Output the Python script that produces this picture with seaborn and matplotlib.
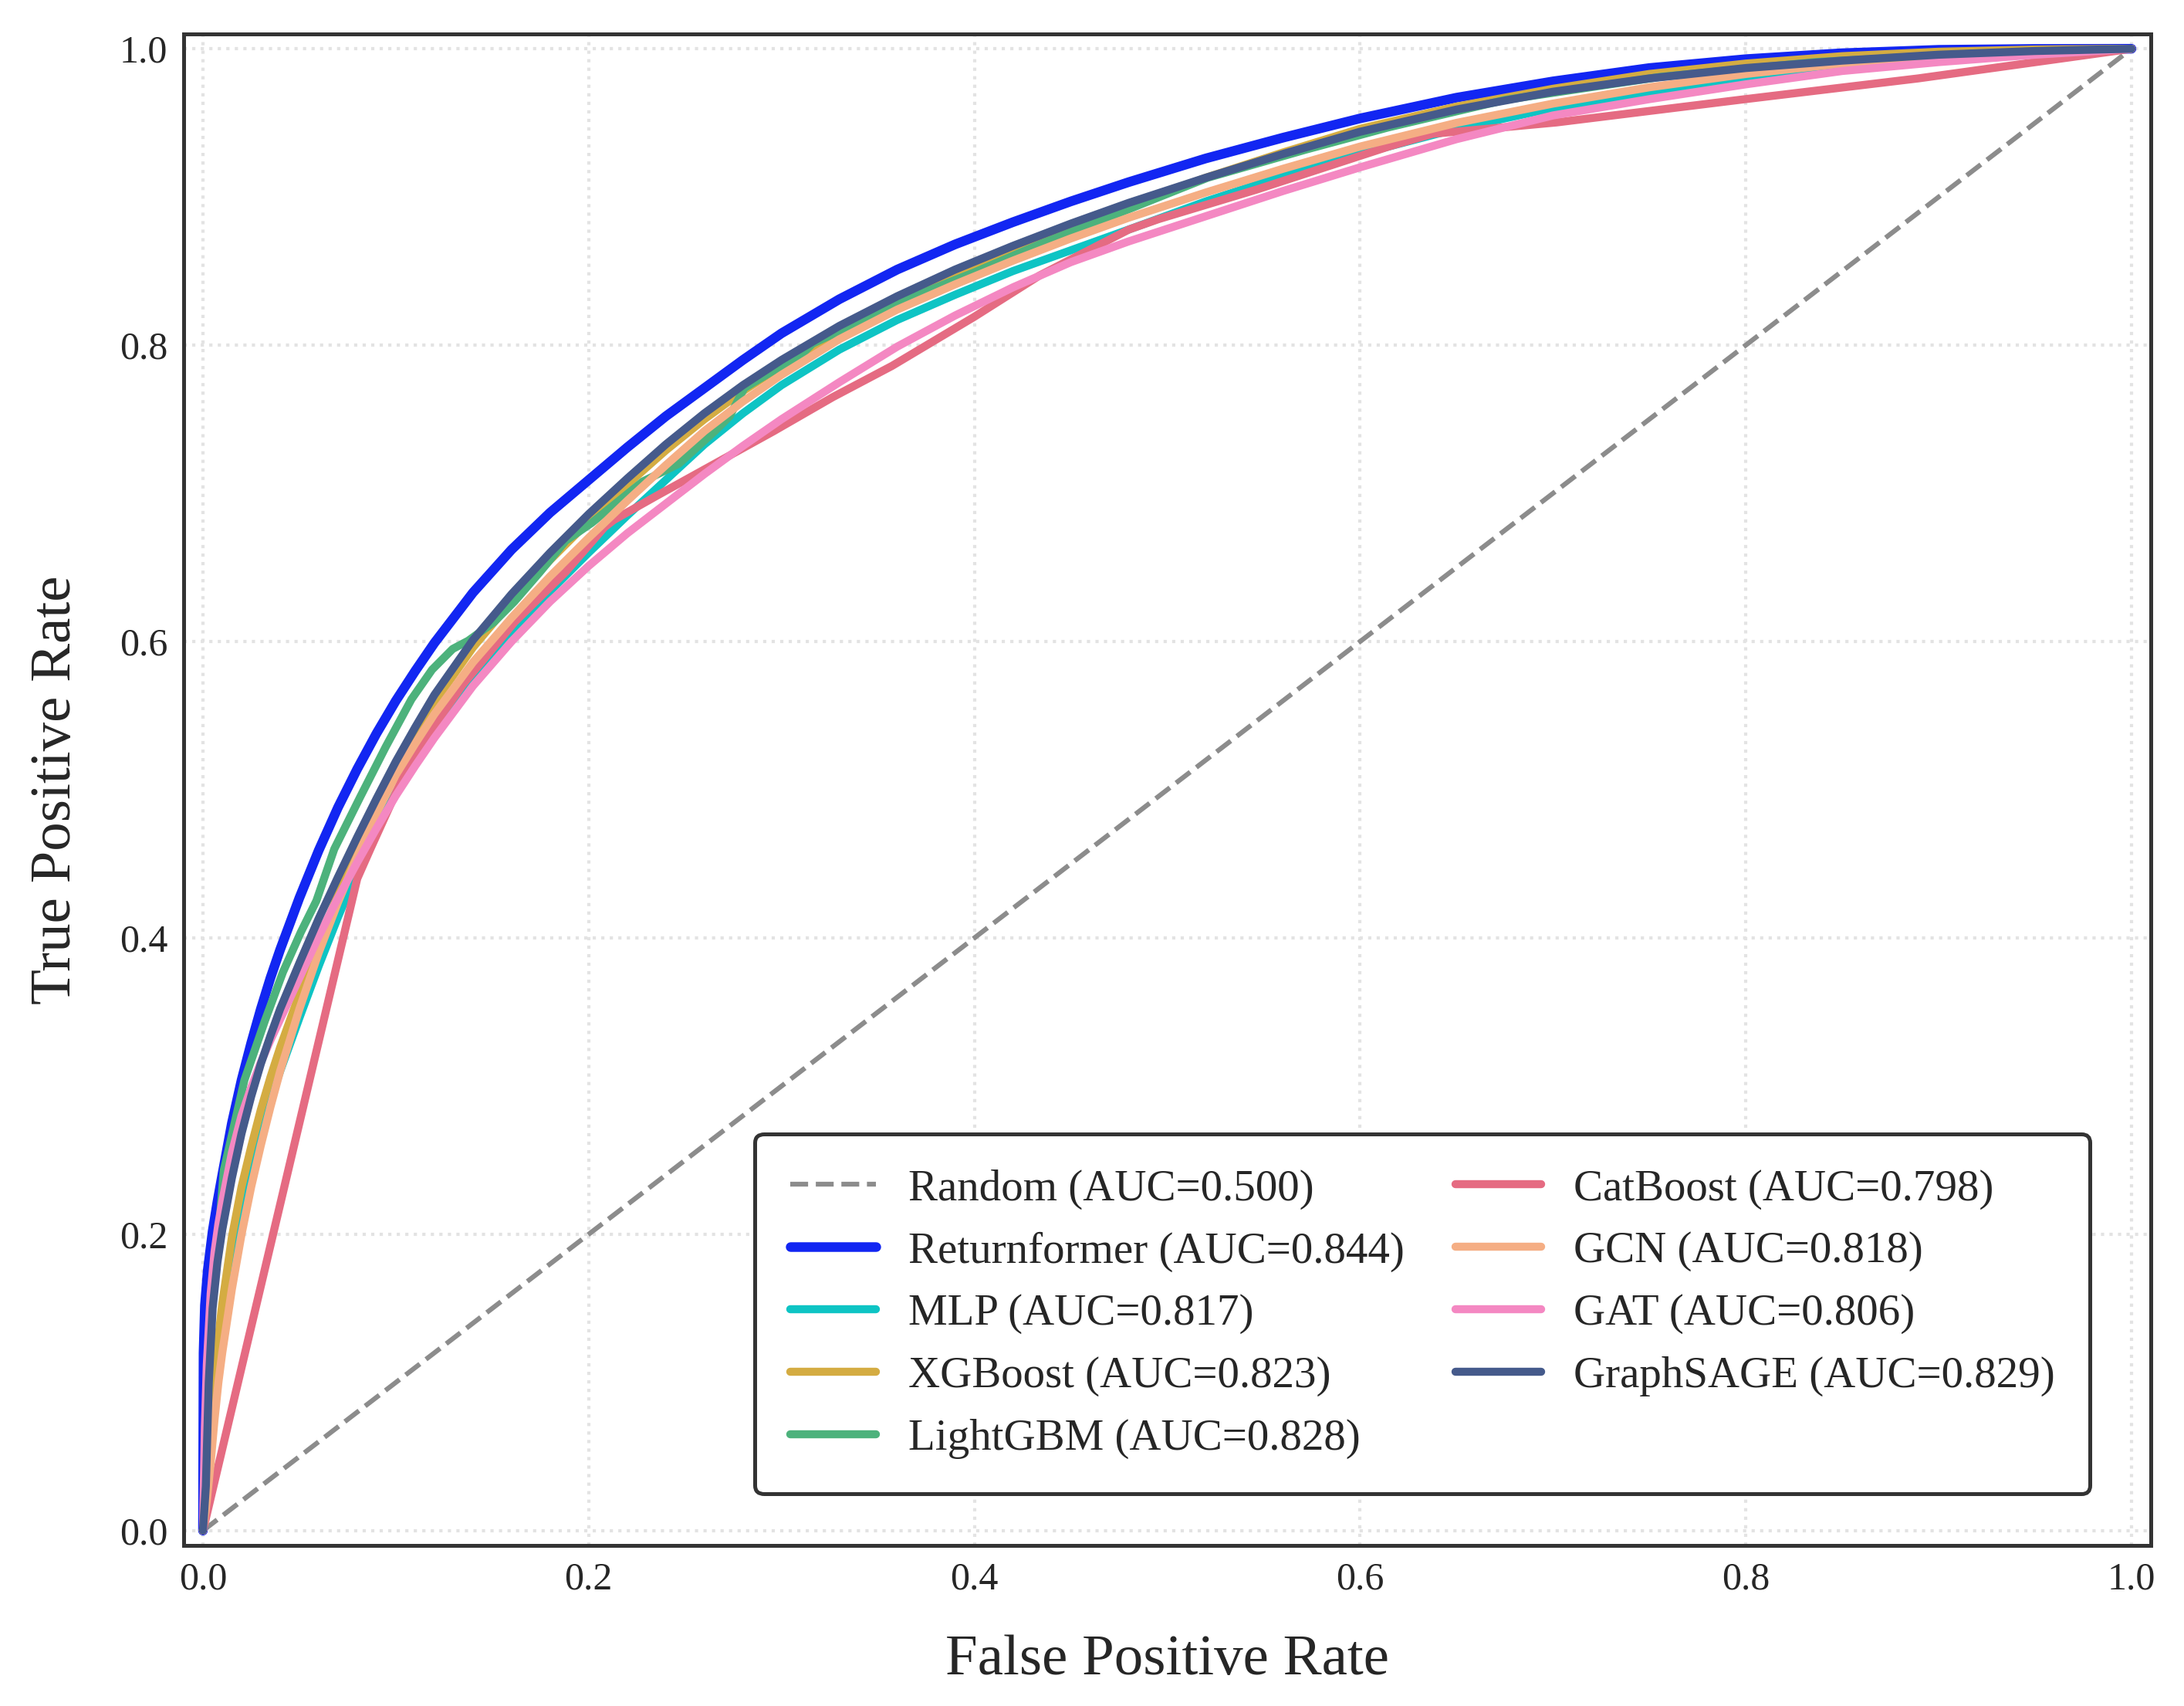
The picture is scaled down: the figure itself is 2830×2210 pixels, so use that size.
import numpy as np
import pandas as pd
import matplotlib
matplotlib.use("Agg")
import matplotlib.pyplot as plt
import seaborn as sns

# ---------------- data ----------------
random_fpr = [0.0, 1.0]
random_tpr = [0.0, 1.0]

returnformer_fpr = [0.0, 0.0003, 0.001, 0.0025, 0.005, 0.0075, 0.01, 0.015, 0.02, 0.025, 0.03, 0.035,
                    0.04, 0.05, 0.06, 0.07, 0.08, 0.09, 0.10, 0.11, 0.12, 0.14, 0.16, 0.18,
                    0.20, 0.22, 0.24, 0.26, 0.28, 0.30, 0.33, 0.36, 0.39, 0.42, 0.45, 0.48,
                    0.52, 0.56, 0.60, 0.65, 0.70, 0.75, 0.80, 0.85, 0.90, 0.95, 1.0]
returnformer_tpr = [0.0, 0.120, 0.152, 0.176, 0.202, 0.222, 0.240, 0.275, 0.304, 0.329, 0.352, 0.373,
                    0.392, 0.427, 0.459, 0.488, 0.514, 0.538, 0.560, 0.580, 0.599, 0.633, 0.662, 0.687,
                    0.709, 0.731, 0.752, 0.771, 0.790, 0.808, 0.831, 0.851, 0.868, 0.883, 0.897, 0.910,
                    0.926, 0.940, 0.953, 0.967, 0.978, 0.987, 0.993, 0.997, 0.9993, 0.9999, 1.0]

mlp_fpr = [0.0, 0.002, 0.004, 0.006, 0.008, 0.01, 0.015, 0.02, 0.025, 0.03, 0.035, 0.04,
           0.05, 0.06, 0.07, 0.08, 0.09, 0.10, 0.11, 0.12, 0.14, 0.16, 0.18, 0.20,
           0.22, 0.24, 0.26, 0.28, 0.30, 0.33, 0.36, 0.39, 0.42, 0.45, 0.48, 0.52,
           0.56, 0.60, 0.65, 0.70, 0.75, 0.80, 0.85, 0.90, 0.95, 1.0]
mlp_tpr = [0.0, 0.026, 0.055, 0.085, 0.114, 0.137, 0.182, 0.220, 0.247, 0.270, 0.291, 0.310,
           0.346, 0.381, 0.414, 0.445, 0.473, 0.498, 0.520, 0.540, 0.577, 0.607, 0.634, 0.660,
           0.685, 0.709, 0.733, 0.754, 0.773, 0.797, 0.817, 0.834, 0.850, 0.864, 0.878, 0.897,
           0.914, 0.929, 0.946, 0.960, 0.971, 0.980, 0.988, 0.994, 0.998, 1.0]

xgb_fpr = [0.0, 0.002, 0.004, 0.006, 0.008, 0.01, 0.015, 0.02, 0.025, 0.03, 0.035, 0.04,
           0.05, 0.06, 0.07, 0.08, 0.09, 0.10, 0.11, 0.12, 0.14, 0.16, 0.18, 0.20,
           0.22, 0.24, 0.26, 0.28, 0.30, 0.33, 0.36, 0.39, 0.42, 0.45, 0.48, 0.52,
           0.56, 0.60, 0.65, 0.70, 0.75, 0.80, 0.85, 0.90, 0.95, 1.0]
xgb_tpr = [0.0, 0.032, 0.068, 0.102, 0.130, 0.153, 0.198, 0.232, 0.259, 0.284, 0.306, 0.326,
           0.362, 0.397, 0.429, 0.459, 0.487, 0.513, 0.537, 0.559, 0.596, 0.627, 0.655, 0.681,
           0.706, 0.729, 0.750, 0.769, 0.786, 0.809, 0.829, 0.846, 0.862, 0.878, 0.894, 0.913,
           0.930, 0.946, 0.961, 0.973, 0.983, 0.990, 0.995, 0.998, 0.9995, 1.0]

lgb_fpr = [0.0, 0.0015, 0.0028, 0.0045, 0.0075, 0.0108, 0.0215, 0.0321, 0.0415, 0.0508, 0.0588, 0.0681,
           0.0815, 0.0948, 0.1081, 0.1188, 0.1295, 0.1375, 0.1508, 0.1615, 0.1748, 0.1881, 0.2015, 0.2148,
           0.2281, 0.2468, 0.2654, 0.2731, 0.2807, 0.3114, 0.3160, 0.3573, 0.3726, 0.3998, 0.4338, 0.4748,
           0.5210, 0.5720, 0.6148, 0.6752, 0.7555, 0.8359, 0.9162, 1.0]
lgb_tpr = [0.0, 0.030, 0.100, 0.150, 0.190, 0.243, 0.304, 0.344, 0.377, 0.404, 0.425, 0.460,
           0.495, 0.529, 0.561, 0.581, 0.595, 0.6005, 0.613, 0.627, 0.647, 0.668, 0.680, 0.694,
           0.708, 0.720, 0.742, 0.752, 0.771, 0.795, 0.801, 0.826, 0.835, 0.849, 0.868, 0.889,
           0.913, 0.932, 0.947, 0.9655, 0.981, 0.991, 0.9965, 1.0]

cat_fpr = [0.0, 0.0800, 0.0868, 0.1081, 0.1348, 0.1615, 0.1881, 0.2081, 0.2130, 0.2348, 0.2654, 0.2960,
           0.3267, 0.3573, 0.3998, 0.4338, 0.4801, 0.4954, 0.5464, 0.6148, 0.6376, 0.7019, 0.7997, 0.8894, 1.0]
cat_tpr = [0.0, 0.440, 0.460, 0.521, 0.571, 0.613, 0.647, 0.677, 0.682, 0.698, 0.720, 0.742,
           0.765, 0.786, 0.819, 0.847, 0.878, 0.885, 0.905, 0.934, 0.9426, 0.9503, 0.966, 0.980, 1.0]

gcn_fpr = [0.0, 0.002, 0.004, 0.006, 0.008, 0.01, 0.015, 0.02, 0.025, 0.03, 0.035, 0.04,
           0.05, 0.06, 0.07, 0.08, 0.09, 0.10, 0.11, 0.12, 0.14, 0.16, 0.18, 0.20,
           0.22, 0.24, 0.26, 0.28, 0.30, 0.33, 0.36, 0.39, 0.42, 0.45, 0.48, 0.52,
           0.56, 0.60, 0.65, 0.70, 0.75, 0.80, 0.85, 0.90, 0.95, 1.0]
gcn_tpr = [0.0, 0.020, 0.046, 0.075, 0.100, 0.120, 0.163, 0.200, 0.232, 0.260, 0.286, 0.310,
           0.352, 0.390, 0.424, 0.455, 0.484, 0.510, 0.531, 0.551, 0.586, 0.616, 0.644, 0.670,
           0.695, 0.719, 0.742, 0.762, 0.780, 0.804, 0.824, 0.841, 0.857, 0.872, 0.886, 0.903,
           0.919, 0.934, 0.950, 0.963, 0.974, 0.983, 0.990, 0.995, 0.998, 1.0]

gat_fpr = [0.0, 0.001, 0.002, 0.004, 0.006, 0.008, 0.01, 0.015, 0.02, 0.025, 0.03, 0.035,
           0.04, 0.05, 0.06, 0.07, 0.08, 0.09, 0.10, 0.11, 0.12, 0.14, 0.16, 0.18,
           0.20, 0.22, 0.24, 0.26, 0.28, 0.30, 0.33, 0.36, 0.39, 0.42, 0.45, 0.48,
           0.52, 0.56, 0.60, 0.65, 0.70, 0.75, 0.80, 0.85, 0.90, 0.95, 1.0]
gat_tpr = [0.0, 0.070, 0.112, 0.160, 0.188, 0.207, 0.222, 0.255, 0.280, 0.299, 0.316, 0.331,
           0.345, 0.373, 0.401, 0.427, 0.451, 0.474, 0.496, 0.516, 0.535, 0.570, 0.600, 0.627,
           0.651, 0.673, 0.693, 0.713, 0.732, 0.750, 0.775, 0.799, 0.820, 0.839, 0.856, 0.870,
           0.887, 0.904, 0.920, 0.939, 0.955, 0.966, 0.976, 0.985, 0.991, 0.996, 1.0]

sage_fpr = [0.0, 0.0015, 0.003, 0.005, 0.0075, 0.01, 0.015, 0.02, 0.025, 0.03, 0.035, 0.04,
            0.05, 0.06, 0.07, 0.08, 0.09, 0.10, 0.11, 0.12, 0.14, 0.16, 0.18, 0.20,
            0.22, 0.24, 0.26, 0.28, 0.30, 0.33, 0.36, 0.39, 0.42, 0.45, 0.48, 0.52,
            0.56, 0.60, 0.65, 0.70, 0.75, 0.80, 0.85, 0.90, 0.95, 1.0]
sage_tpr = [0.0, 0.030, 0.100, 0.150, 0.181, 0.203, 0.238, 0.268, 0.293, 0.315, 0.334, 0.352,
            0.383, 0.413, 0.441, 0.468, 0.494, 0.519, 0.542, 0.564, 0.601, 0.632, 0.660, 0.686,
            0.710, 0.733, 0.754, 0.773, 0.790, 0.813, 0.833, 0.851, 0.867, 0.882, 0.896, 0.913,
            0.929, 0.944, 0.959, 0.971, 0.980, 0.987, 0.992, 0.996, 0.9985, 1.0]

model_names = ["Random", "Returnformer", "MLP", "XGBoost", "LightGBM", "CatBoost", "GCN", "GAT", "GraphSAGE"]
auc_values = [0.500, 0.844, 0.817, 0.823, 0.828, 0.798, 0.818, 0.806, 0.829]
curve_fpr = [random_fpr, returnformer_fpr, mlp_fpr, xgb_fpr, lgb_fpr, cat_fpr, gcn_fpr, gat_fpr, sage_fpr]
curve_tpr = [random_tpr, returnformer_tpr, mlp_tpr, xgb_tpr, lgb_tpr, cat_tpr, gcn_tpr, gat_tpr, sage_tpr]

colors = ["#8c8c8c", "#1226F2", "#0EC4C4", "#D4AC42", "#4DB27C", "#E56B82", "#F5AE84", "#F488C2", "#455A8B"]
widths = [1.5, 3.0, 2.5, 2.5, 2.5, 2.5, 2.5, 2.5, 2.5]

# ---------------- style ----------------
sns.set_theme(style="whitegrid")
plt.rcParams["font.family"] = ["Liberation Serif", "DejaVu Serif"]
plt.rcParams["axes.edgecolor"] = "#333333"
plt.rcParams["axes.linewidth"] = 1.2
plt.rcParams["grid.color"] = "#e3e3e3"
plt.rcParams["grid.linestyle"] = ":"
plt.rcParams["grid.linewidth"] = 1.0
plt.rcParams["text.color"] = "#262626"
plt.rcParams["axes.labelcolor"] = "#262626"
plt.rcParams["xtick.color"] = "#262626"
plt.rcParams["ytick.color"] = "#262626"

fig = plt.figure(figsize=(2830 / 300, 2210 / 300), dpi=300)
ax = fig.add_axes([0.0841, 0.0941, 0.9007, 0.8860])

for name, auc, fx, fy, col, lw in zip(model_names, auc_values, curve_fpr, curve_tpr, colors, widths):
    df = pd.DataFrame({"fpr": fx, "tpr": fy})
    label = f"{name} (AUC={auc:.3f})"
    if name == "Random":
        sns.lineplot(data=df, x="fpr", y="tpr", ax=ax, color=col, linewidth=lw, linestyle="--",
                     label=label, sort=False, estimator=None)
    else:
        sns.lineplot(data=df, x="fpr", y="tpr", ax=ax, color=col, linewidth=lw, label=label,
                     sort=False, estimator=None, solid_capstyle="round", solid_joinstyle="round")

ax.set_xlim(-0.01, 1.01)
ax.set_ylim(-0.01, 1.01)
ticks = [0.0, 0.2, 0.4, 0.6, 0.8, 1.0]
ax.set_xticks(ticks)
ax.set_yticks(ticks)
ax.set_xticklabels([f"{t:.1f}" for t in ticks])
ax.set_yticklabels([f"{t:.1f}" for t in ticks])
ax.tick_params(axis="both", labelsize=12, length=0, pad=5)
ax.set_xlabel("False Positive Rate", fontsize=18, labelpad=11.5)
ax.set_ylabel("True Positive Rate", fontsize=18, labelpad=11.5)
for s in ax.spines.values():
    s.set_visible(True)
    s.set_color("#333333")
    s.set_linewidth(1.2)

leg = ax.legend(ncol=2, loc="lower right", bbox_to_anchor=(0.969, 0.034), borderaxespad=0,
                fontsize=13.7, frameon=True, fancybox=True, borderpad=0.8, labelspacing=0.5,
                handlelength=1.95, handletextpad=0.73, columnspacing=1.15)
frame = leg.get_frame()
frame.set_edgecolor("#333333")
frame.set_linewidth(1.2)
frame.set_facecolor("white")
frame.set_alpha(1.0)
for h in leg.get_lines():
    h.set_solid_capstyle("round")

fig.savefig("out.png", dpi=300)
